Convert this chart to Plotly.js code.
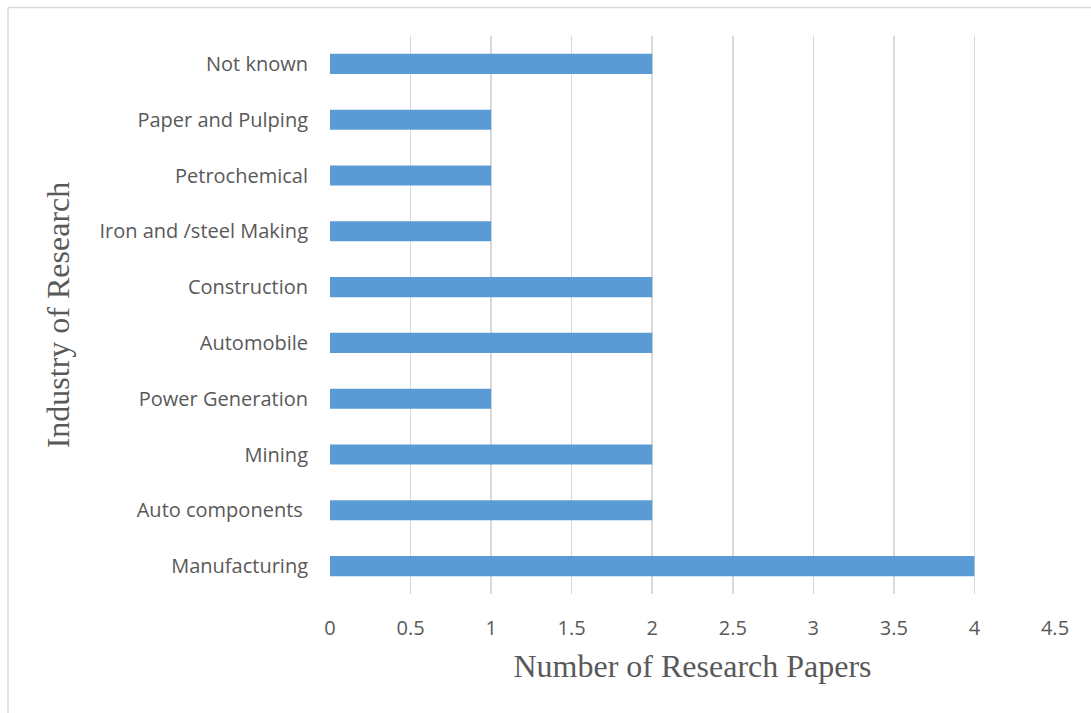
<!DOCTYPE html>
<html>
<head>
<meta charset="utf-8">
<script src="https://cdn.plot.ly/plotly-3.0.1.min.js"></script>
<style>html,body{margin:0;padding:0;background:#fff;}#chart{width:1091px;height:713px;}</style>
</head>
<body>
<div id="chart"></div>
<script>
const categories = ["Manufacturing", "Auto components ", "Mining", "Power Generation", "Automobile", "Construction", "Iron and /steel Making", "Petrochemical", "Paper and Pulping", "Not known"];
const papers = [4, 2, 2, 1, 2, 2, 1, 1, 1, 2];
const xTicks = [0, 0.5, 1, 1.5, 2, 2.5, 3, 3.5, 4, 4.5];

const W = 1091, H = 713;
const m = {l: 330, r: 36, t: 36, b: 119};
const pw = W - m.l - m.r, ph = H - m.t - m.b;
const px = x => (x - m.l) / pw;
const py = y => (H - m.b - y) / ph;

Plotly.newPlot('chart', [{
  type: 'bar',
  orientation: 'h',
  x: papers,
  y: categories,
  marker: {color: '#5B9BD5'},
  hoverinfo: 'x+y'
}], {
  width: W, height: H,
  margin: m,
  paper_bgcolor: '#fff',
  plot_bgcolor: '#fff',
  bargap: 0.64,
  showlegend: false,
  font: {family: '"Open Sans", sans-serif', color: '#595959', size: 20},
  xaxis: {
    range: [0, 4.5],
    tickvals: xTicks,
    ticktext: xTicks.map(String),
    showgrid: true, gridcolor: '#D9D9D9', gridwidth: 1.6,
    zeroline: false, showline: false, ticks: '',
    ticklabelstandoff: 20,
    tickfont: {family: '"Open Sans", sans-serif', size: 20, color: '#595959'},
    title: {text: 'Number of Research Papers', font: {family: '"Liberation Serif", serif', size: 32, color: '#595959'}, standoff: 14},
    automargin: false,
    fixedrange: true
  },
  yaxis: {
    type: 'category',
    categoryorder: 'array', categoryarray: categories,
    showgrid: false, zeroline: false, showline: false, ticks: '',
    ticklabelstandoff: 21,
    tickfont: {family: '"Open Sans", sans-serif', size: 20, color: '#595959'},
    title: {text: 'Industry of Research', font: {family: '"Liberation Serif", serif', size: 32, color: '#595959'}, standoff: 20},
    automargin: false,
    fixedrange: true
  },
  shapes: [
    {type: 'line', xref: 'paper', yref: 'paper', x0: px(8), x1: px(1091), y0: py(7.5), y1: py(7.5), line: {color: '#D9D9D9', width: 1.5}},
    {type: 'line', xref: 'paper', yref: 'paper', x0: px(8), x1: px(8), y0: py(7.5), y1: py(713), line: {color: '#D9D9D9', width: 1.5}}
  ]
}, {displayModeBar: false, staticPlot: true});
</script>
</body>
</html>
